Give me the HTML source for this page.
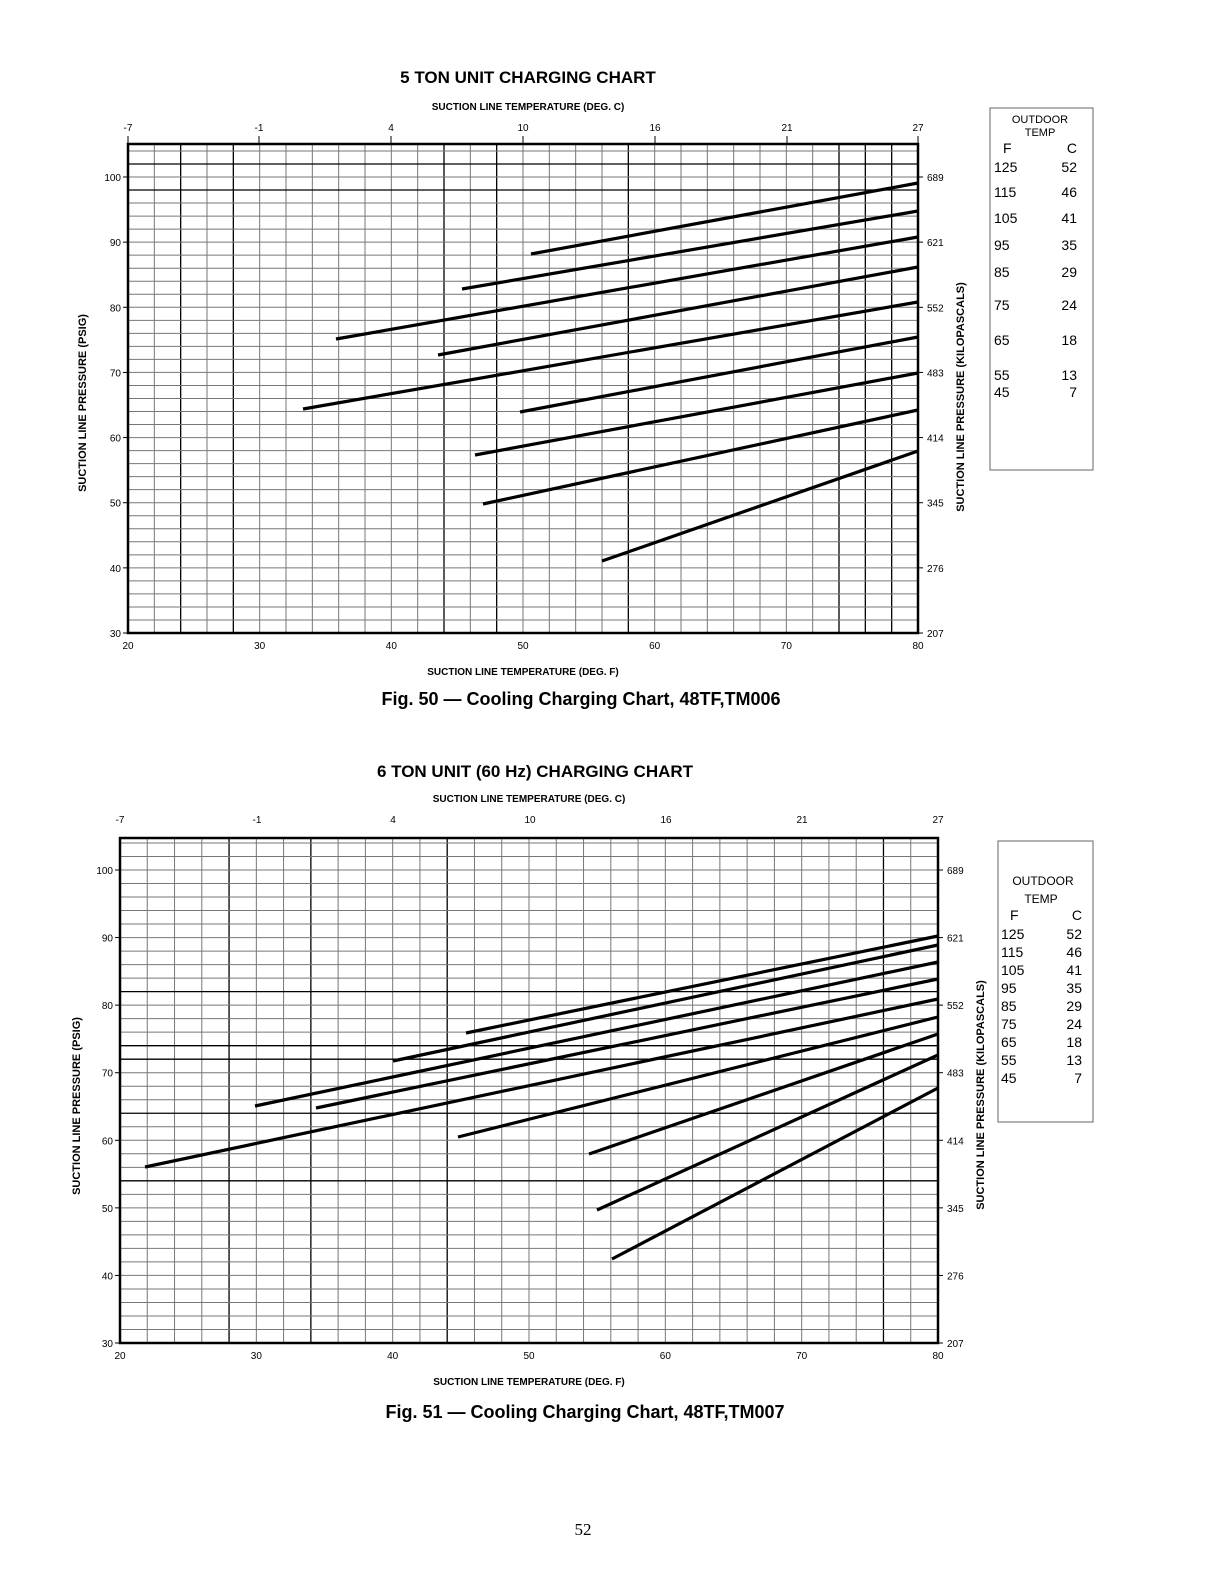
<!DOCTYPE html>
<html><head><meta charset="utf-8"><style>
html,body{margin:0;padding:0;background:#fff}
svg{display:block}
text{font-family:"Liberation Sans",sans-serif;fill:#000}
</style></head><body>
<svg width="1212" height="1574" viewBox="0 0 1212 1574" xmlns="http://www.w3.org/2000/svg">
<g id="c1">
<text x="528" y="83" font-size="17" font-weight="bold" text-anchor="middle">5 TON UNIT CHARGING CHART</text>
<text x="528" y="110" font-size="10" font-weight="bold" text-anchor="middle">SUCTION LINE TEMPERATURE (DEG. C)</text>
<g font-size="10" text-anchor="middle">
<text x="128" y="131">-7</text><text x="259" y="131">-1</text><text x="391" y="131">4</text><text x="523" y="131">10</text><text x="655" y="131">16</text><text x="787" y="131">21</text><text x="918" y="131">27</text>
</g>
<g stroke="#000" stroke-width="1">
<line x1="128" y1="136" x2="128" y2="144"/><line x1="259" y1="136" x2="259" y2="144"/><line x1="391" y1="136" x2="391" y2="144"/><line x1="523" y1="136" x2="523" y2="144"/><line x1="655" y1="136" x2="655" y2="144"/><line x1="787" y1="136" x2="787" y2="144"/><line x1="918" y1="136" x2="918" y2="144"/>
</g>
</g>
<g id="c2">
<text x="535" y="777" font-size="17" font-weight="bold" text-anchor="middle">6 TON UNIT (60 Hz) CHARGING CHART</text>
<text x="529" y="802" font-size="10" font-weight="bold" text-anchor="middle">SUCTION LINE TEMPERATURE (DEG. C)</text>
<g font-size="10" text-anchor="middle">
<text x="120" y="823">-7</text><text x="257" y="823">-1</text><text x="393" y="823">4</text><text x="530" y="823">10</text><text x="666" y="823">16</text><text x="802" y="823">21</text><text x="938" y="823">27</text>
</g>
</g>
<text x="581" y="705" font-size="18" font-weight="bold" text-anchor="middle">Fig. 50 — Cooling Charging Chart, 48TF,TM006</text>
<text x="585" y="1418" font-size="18" font-weight="bold" text-anchor="middle">Fig. 51 — Cooling Charging Chart, 48TF,TM007</text>
<text x="583" y="1535" font-size="17" text-anchor="middle" style="font-family:'Liberation Serif',serif">52</text>
<g id="dyn"></g>
</svg>
<script>
(function(){
var NS="http://www.w3.org/2000/svg",root=document.getElementById("dyn");
function el(t,a,txt){var e=document.createElementNS(NS,t);for(var k in a)e.setAttribute(k,a[k]);if(txt!=null)e.textContent=txt;root.appendChild(e);return e;}
function chart(o){
 var fx=function(f){return o.x0+(f-20)*(o.x1-o.x0)/60;};
 var py=function(p){return o.y30-(p-30)*(o.y30-o.y100)/70;};
 var top=o.top;
 for(var f=22;f<80;f+=2){var dk=o.dv.indexOf(f)>=0;el("line",{x1:fx(f),y1:top,x2:fx(f),y2:o.y30,stroke:dk?"#000":"#777","stroke-width":dk?1.3:1});}
 for(var p=32;py(p)>top+2;p+=2){var dk=o.dh.indexOf(p)>=0;el("line",{x1:o.x0,y1:py(p),x2:o.x1,y2:py(p),stroke:dk?"#000":"#777","stroke-width":dk?1.3:1});}
 el("rect",{x:o.x0,y:top,width:o.x1-o.x0,height:o.y30-top,fill:"none",stroke:"#000","stroke-width":2.5});
 for(var p=30;p<=100;p+=10){var y=py(p);
  el("text",{x:o.x0-7,y:y+4,"font-size":10,"text-anchor":"end"},String(p));
  el("line",{x1:o.x0-5,y1:y,x2:o.x0,y2:y,stroke:"#000"});
  el("line",{x1:o.x1,y1:y,x2:o.x1+5,y2:y,stroke:"#000"});
  el("text",{x:o.x1+9,y:y+4,"font-size":10},String(o.kpa[(p-30)/10]));}
 for(var f=20;f<=80;f+=10){el("text",{x:fx(f),y:o.y30+16,"font-size":10,"text-anchor":"middle"},String(f));}
 el("text",{x:(o.x0+o.x1)/2,y:o.y30+42,"font-size":10,"font-weight":"bold","text-anchor":"middle"},"SUCTION LINE TEMPERATURE (DEG. F)");
 el("text",{x:0,y:0,"font-size":11,"font-weight":"bold","text-anchor":"middle",transform:"translate("+(o.ll)+","+o.lm+") rotate(-90)"},"SUCTION LINE PRESSURE (PSIG)");
 el("text",{x:0,y:0,"font-size":11,"font-weight":"bold","text-anchor":"middle",transform:"translate("+(o.rl)+","+o.rm+") rotate(-90)"},"SUCTION LINE PRESSURE (KILOPASCALS)");
 o.lines.forEach(function(l){el("line",{x1:l[0],y1:l[1],x2:o.x1,y2:l[2],stroke:"#000","stroke-width":3.2});});
 var b=o.box;el("rect",{x:b[0],y:b[1],width:b[2],height:b[3],fill:"none",stroke:"#666","stroke-width":1});
}
var kpa=[207,276,345,414,483,552,621,689];
chart({x0:128,x1:918,y30:633,y100:177,top:144,dv:[24,28,44,48,58,74,76,78],dh:[98,102],kpa:kpa,ll:86,lm:403,rl:964,rm:397,
 lines:[[531,254,183],[462,289,211],[336,339,237],[438,355,267],[303,409,302],[520,412,337],[475,455,373],[483,504,410],[602,561,451]],box:[990,108,103,362]});
chart({x0:120,x1:938,y30:1343,y100:870,top:838,dv:[28,34,44,76],dh:[54,64,72,74,82],kpa:kpa,ll:80,lm:1106,rl:984,rm:1095,
 lines:[[466,1033,936],[393,1061,945],[255,1106,962],[316,1108,979],[145,1167,999],[458,1137,1017],[589,1154,1034],[597,1210,1055],[612,1259,1088]],box:[998,841,95,281]});
el("text",{x:1040,y:123,"font-size":11,"text-anchor":"middle"},"OUTDOOR");
el("text",{x:1040,y:136,"font-size":11,"text-anchor":"middle"},"TEMP");
var r1=[["F","C",153],["125","52",172],["115","46",197],["105","41",223],["95","35",250],["85","29",277],["75","24",310],["65","18",345],["55","13",380],["45","7",397]];
r1.forEach(function(r,i){el("text",{x:i==0?1003:994,y:r[2],"font-size":14},r[0]);el("text",{x:1077,y:r[2],"font-size":14,"text-anchor":"end"},r[1]);});
el("text",{x:1043,y:885,"font-size":12,"text-anchor":"middle"},"OUTDOOR");
el("text",{x:1041,y:903,"font-size":12,"text-anchor":"middle"},"TEMP");
var r2=[["F","C",920],["125","52",939],["115","46",957],["105","41",975],["95","35",993],["85","29",1011],["75","24",1029],["65","18",1047],["55","13",1065],["45","7",1083]];
r2.forEach(function(r,i){el("text",{x:i==0?1010:1001,y:r[2],"font-size":14},r[0]);el("text",{x:1082,y:r[2],"font-size":14,"text-anchor":"end"},r[1]);});
})();
</script>
</body></html>
